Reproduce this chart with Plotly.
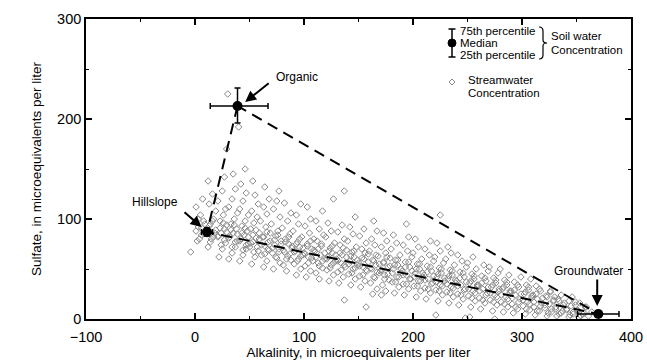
import plotly.graph_objects as go

# ---------------- data ----------------
# streamwater samples (scattered part of the cloud)
STREAM_ALK = [
    -4, 2, 6, 3, 8, 5, 1, 7,
    12, 15, 18, 11, 14, 17, 19, 13, 16, 12,
    22, 25, 28, 21, 24, 27, 29, 23, 26, 28, 21, 25, 27, 29,
    31, 34, 37, 39, 32, 35, 38, 33, 36, 39, 31, 34, 37, 35, 30,
    41, 44, 47, 49, 42, 45, 48, 43, 46, 49, 41, 44, 47, 42, 46, 40,
    52, 55, 58, 50, 53, 56, 59, 51, 54, 57, 52, 58, 55, 53,
    63, 66, 61, 68, 64, 67, 62, 69, 65, 60, 66, 63, 68, 64,
    72, 78, 75, 71, 77, 73, 79, 74, 76, 70, 78, 72, 75, 77,
    84, 81, 88, 85, 82, 89, 86, 83, 87, 80, 85, 88, 82,
    93, 97, 91, 95, 99, 92, 96, 94, 98, 90, 95, 93, 97,
    102, 106, 101, 108, 104, 100, 107, 103, 109, 105, 101, 106, 103,
    114, 111, 117, 113, 119, 115, 110, 116, 112, 118, 114, 111, 117,
    123, 127, 121, 125, 129, 122, 126, 124, 128, 120, 125, 122, 127,
    137, 132, 136, 131, 138, 134, 130, 135, 139, 133, 137, 131, 135, 137,
    143, 147, 141, 145, 149, 142, 146, 144, 148, 140, 145, 142, 147,
    157, 152, 156, 151, 158, 154, 150, 155, 159, 153, 157, 151, 155,
    163, 167, 161, 165, 169, 162, 166, 164, 168, 160, 165, 162, 167, 164,
    171, 175, 172, 178, 174, 170, 177, 173, 179, 175, 171, 176, 173,
    183, 187, 181, 185, 189, 182, 186, 184, 188, 180, 185, 182,
    192, 196, 191, 198, 194, 190, 197, 193, 199, 195, 191, 196, 194,
    203, 207, 201, 205, 209, 202, 206, 204, 208, 200, 205, 202,
    212, 216, 211, 218, 214, 210, 217, 213, 219, 215, 211, 216, 225,
    221, 223, 227, 221, 225, 229, 222, 226, 224, 228, 220, 225, 222,
    233, 237, 231, 235, 239, 232, 236, 234, 238, 230, 235, 232,
    248, 242, 246, 241, 248, 244, 240, 247, 243, 249, 245, 241,
    252, 253, 257, 251, 255, 259, 252, 256, 254, 258, 250, 255,
    262, 266, 261, 268, 264, 260, 267, 263, 269, 265,
    275, 273, 277, 271, 275, 279, 272, 276, 274, 278, 270,
    283, 287, 281, 285, 289, 282, 286, 284, 288, 280,
    292, 296, 291, 298, 294, 290, 297, 293, 299,
    303, 307, 301, 305, 309, 302, 306, 304, 308,
    312, 316, 311, 318, 314, 310, 317, 313,
    323, 327, 321, 325, 329, 322, 326,
    332, 336, 331, 338, 334, 330,
    343, 347, 341, 345, 349,
    352, 356, 351, 358,
    361, 364,
]
STREAM_SO4 = [
    67, 78, 84, 92, 98, 104, 112, 120,
    72, 80, 86, 90, 95, 100, 108, 115, 125, 138,
    62, 70, 76, 82, 86, 90, 94, 98, 104, 110, 118, 128, 142, 170,
    60, 66, 72, 78, 82, 86, 90, 95, 100, 106, 112, 120, 130, 145, 225,
    58, 64, 70, 75, 80, 84, 88, 93, 98, 104, 110, 118, 126, 135, 150, 192,
    55, 62, 68, 72, 77, 81, 86, 90, 96, 102, 108, 115, 124, 138,
    52, 58, 64, 69, 73, 77, 82, 86, 92, 98, 105, 112, 120, 132,
    50, 56, 61, 66, 70, 74, 78, 83, 88, 95, 102, 110, 118, 128,
    48, 54, 59, 63, 67, 71, 75, 80, 85, 91, 98, 106, 116,
    44, 50, 55, 60, 64, 68, 72, 77, 82, 88, 95, 104, 115,
    42, 48, 53, 58, 62, 66, 70, 75, 80, 86, 93, 100, 112,
    40, 46, 51, 56, 60, 64, 68, 73, 78, 84, 90, 98, 108,
    38, 44, 49, 54, 58, 62, 66, 71, 76, 82, 88, 96, 120,
    19, 36, 42, 47, 52, 56, 60, 64, 69, 74, 80, 87, 94, 128,
    34, 40, 45, 50, 54, 58, 62, 67, 72, 78, 85, 92, 102,
    12, 32, 38, 43, 48, 52, 56, 60, 65, 70, 76, 83, 90,
    25, 30, 36, 41, 46, 50, 54, 58, 63, 68, 74, 80, 88, 98,
    24, 28, 34, 39, 44, 48, 52, 56, 61, 66, 72, 78, 86,
    26, 32, 37, 42, 46, 50, 54, 59, 64, 70, 76, 84,
    24, 30, 35, 40, 44, 48, 52, 57, 62, 68, 74, 82, 95,
    22, 28, 33, 38, 42, 46, 50, 55, 60, 66, 72, 80,
    20, 26, 31, 36, 40, 44, 48, 53, 58, 64, 70, 78, 104,
    4, 18, 24, 29, 34, 38, 42, 46, 51, 56, 62, 68, 76,
    16, 22, 27, 32, 36, 40, 44, 49, 54, 60, 66, 72,
    1, 14, 20, 25, 30, 34, 38, 42, 47, 52, 58, 64,
    2, 12, 18, 23, 28, 32, 36, 40, 45, 50, 56, 62,
    10, 16, 21, 26, 30, 34, 38, 43, 48, 54,
    0, 8, 14, 19, 24, 28, 32, 36, 41, 46, 52,
    7, 12, 17, 22, 26, 30, 34, 39, 44, 50,
    6, 10, 15, 20, 24, 28, 32, 37, 42,
    5, 9, 13, 17, 21, 25, 29, 34, 40,
    4, 8, 12, 16, 20, 24, 28, 33,
    3, 7, 11, 15, 19, 23, 28,
    3, 6, 10, 14, 18, 22,
    2, 5, 9, 13, 17,
    2, 5, 8, 12,
    3, 7,
]

# streamwater samples (dense core of the cloud, near the hillslope-groundwater line)
CORE_ALK = [
    4, 8, 1, 6, 9, 3,
    14, 17, 11, 19, 13, 16,
    24, 27, 21, 29, 23, 26,
    34, 37, 31, 39, 33, 36,
    44, 47, 41, 49, 43, 46,
    54, 57, 51, 59, 53, 56,
    64, 67, 61, 69, 63, 66,
    74, 77, 71, 79, 73, 76,
    84, 87, 81, 89, 83, 86,
    94, 97, 91, 99, 93, 96,
    104, 107, 101, 109, 103, 106,
    114, 117, 111, 119, 113, 116,
    124, 127, 121, 129, 123, 126,
    134, 137, 131, 139, 133, 136,
    144, 147, 141, 149, 143, 146,
    154, 157, 151, 159, 153, 156,
    164, 167, 161, 169, 163, 166,
    174, 177, 171, 179, 173, 176,
    184, 187, 181, 189, 183, 186,
    194, 197, 191, 199, 193, 196,
    204, 207, 201, 209, 203, 206,
    214, 217, 211, 219, 213, 216,
    224, 227, 221, 229, 223, 226,
    234, 237, 231, 239, 233, 236,
    244, 247, 241, 249, 243, 246,
    254, 257, 251, 259, 253, 256,
    264, 267, 261, 269, 263, 266,
    274, 277, 271, 279, 273, 276,
    284, 287, 281, 289, 283, 286,
    294, 297, 291, 299, 293, 296,
    304, 307, 301, 309, 303, 306,
    314, 317, 311, 319, 313, 316,
    324, 327, 321, 329, 323, 326,
    334, 337, 331, 339, 333, 336,
    344, 347, 341, 349, 343, 346,
    354, 357, 351, 359, 353,
]
CORE_SO4 = [
    80, 85, 88, 91, 95, 100,
    77, 82, 85, 89, 93, 98,
    74, 79, 83, 87, 91, 96,
    72, 77, 81, 85, 89, 94,
    69, 74, 78, 82, 86, 91,
    67, 72, 76, 80, 84, 89,
    65, 70, 74, 78, 82, 87,
    62, 67, 71, 75, 79, 84,
    60, 65, 69, 73, 77, 82,
    58, 63, 67, 71, 75, 80,
    56, 61, 65, 69, 73, 78,
    53, 58, 62, 66, 70, 75,
    51, 56, 60, 64, 68, 73,
    49, 54, 58, 62, 66, 71,
    46, 51, 55, 59, 63, 68,
    44, 49, 53, 57, 61, 66,
    42, 47, 51, 55, 59, 64,
    40, 45, 49, 53, 57, 62,
    37, 42, 46, 50, 54, 59,
    35, 40, 44, 48, 52, 57,
    33, 38, 42, 46, 50, 55,
    30, 35, 39, 43, 47, 52,
    28, 33, 37, 41, 45, 50,
    26, 31, 35, 39, 43, 48,
    24, 29, 33, 37, 41, 46,
    21, 26, 30, 34, 38, 43,
    19, 24, 28, 32, 36, 41,
    17, 22, 26, 30, 34, 39,
    15, 20, 24, 28, 32, 37,
    12, 17, 21, 25, 29, 34,
    10, 15, 19, 23, 27, 32,
    8, 13, 17, 21, 25, 30,
    6, 10, 14, 18, 22, 27,
    5, 8, 12, 16, 20, 24,
    4, 7, 10, 14, 18, 22,
    3, 6, 9, 12, 16,
]

END_NAMES = ["Organic", "Hillslope", "Groundwater"]
END_ALK = [39, 11, 370]
END_SO4 = [213, 87, 5]
END_ALK_PLUS = [28, 5, 19]     # 75th percentile - median
END_ALK_MINUS = [25, 5, 19]    # median - 25th percentile
END_SO4_PLUS = [18, 4, 3]
END_SO4_MINUS = [17, 4, 3]

X_TICKS = [-100, 0, 100, 200, 300, 400]
Y_TICKS = [0, 100, 200, 300]

FONT = "Liberation Sans, Arial, Helvetica, sans-serif"
STREAM_COLOR = "#8a8a8a"

fig = go.Figure()

fig.add_trace(go.Scatter(
    x=STREAM_ALK + CORE_ALK, y=STREAM_SO4 + CORE_SO4, mode="markers",
    marker=dict(symbol="diamond-open", size=5, color=STREAM_COLOR,
                line=dict(width=1, color=STREAM_COLOR)),
    showlegend=False, hoverinfo="skip"))

# mixing triangle (dashed)
tri_order = [0, 1, 2, 0]
fig.add_trace(go.Scatter(
    x=[END_ALK[i] for i in tri_order], y=[END_SO4[i] for i in tri_order],
    mode="lines", line=dict(color="black", width=2, dash="11px,7px"),
    showlegend=False, hoverinfo="skip"))

# end-members with percentile bars
fig.add_trace(go.Scatter(
    x=END_ALK, y=END_SO4, mode="markers",
    marker=dict(symbol="circle", size=10, color="black"),
    error_x=dict(type="data", array=END_ALK_PLUS, arrayminus=END_ALK_MINUS,
                 color="black", thickness=1.5, width=3),
    error_y=dict(type="data", array=END_SO4_PLUS, arrayminus=END_SO4_MINUS,
                 color="black", thickness=1.5, width=3),
    showlegend=False, hoverinfo="skip"))

ann = []
LABEL_POS = [(94, 242), (-37, 117), (361, 48)]
ARROW_TAIL = [(69, 237), (-11, 108), (369, 41)]
ARROW_HEAD = [(46, 217), (6, 92), (369, 13)]
for name, lp, tail, head in zip(END_NAMES, LABEL_POS, ARROW_TAIL, ARROW_HEAD):
    ann.append(dict(x=lp[0], y=lp[1], xref="x", yref="y", text=name,
                    showarrow=False, font=dict(family=FONT, size=12, color="black")))
    ann.append(dict(x=head[0], y=head[1], ax=tail[0], ay=tail[1],
                    xref="x", yref="y", axref="x", ayref="y", text="",
                    showarrow=True, arrowhead=2, arrowsize=1.1, arrowwidth=2,
                    arrowcolor="black"))


def px(xp):
    return (xp - 86) / 545.0


def py(yp):
    return (319 - yp) / 300.0


for txt, yy in [("75th percentile", 31), ("Median", 43), ("25th percentile", 55)]:
    ann.append(dict(x=px(458), y=py(yy), xref="paper", yref="paper", text=txt,
                    showarrow=False, xanchor="left", yanchor="middle",
                    font=dict(family=FONT, size=11.5, color="black")))
for txt, yy in [("Soil water", 36), ("Concentration", 50)]:
    ann.append(dict(x=px(549), y=py(yy), xref="paper", yref="paper", text=txt,
                    showarrow=False, xanchor="left", yanchor="middle",
                    font=dict(family=FONT, size=11.5, color="black")))
for txt, yy in [("Streamwater", 80), ("Concentration", 93)]:
    ann.append(dict(x=px(466), y=py(yy), xref="paper", yref="paper", text=txt,
                    showarrow=False, xanchor="left", yanchor="middle",
                    font=dict(family=FONT, size=11.5, color="black")))

shapes = []
shapes.append(dict(type="line", xref="paper", yref="paper",
                   x0=px(452), x1=px(452), y0=py(29), y1=py(57),
                   line=dict(color="black", width=1.5)))
for yy in (29, 57):
    shapes.append(dict(type="line", xref="paper", yref="paper",
                       x0=px(448.5), x1=px(455.5), y0=py(yy), y1=py(yy),
                       line=dict(color="black", width=1.5)))
shapes.append(dict(type="circle", xref="paper", yref="paper",
                   x0=px(448), x1=px(456), y0=py(47), y1=py(39),
                   fillcolor="black", line=dict(color="black", width=1)))
bx0, bx1, bx2 = px(539), px(543), px(547)
brace = (f"M {bx0},{py(27)} Q {bx1},{py(27)} {bx1},{py(31)} L {bx1},{py(40)} "
         f"Q {bx1},{py(43)} {bx2},{py(43)} Q {bx1},{py(43)} {bx1},{py(46)} "
         f"L {bx1},{py(55)} Q {bx1},{py(59)} {bx0},{py(59)}")
shapes.append(dict(type="path", xref="paper", yref="paper", path=brace,
                   line=dict(color="black", width=1.2)))
dx, dy = 452, 82
diamond = (f"M {px(dx-3)},{py(dy)} L {px(dx)},{py(dy-3)} "
           f"L {px(dx+3)},{py(dy)} L {px(dx)},{py(dy+3)} Z")
shapes.append(dict(type="path", xref="paper", yref="paper", path=diamond,
                   line=dict(color=STREAM_COLOR, width=1)))

axis_common = dict(
    showline=True, linecolor="black", linewidth=1.6, mirror="ticks",
    ticks="inside", ticklen=6, tickwidth=1.5, tickcolor="black",
    showgrid=False, zeroline=False, automargin=False,
    tickfont=dict(family=FONT, size=14.5, color="black"),
    minor=dict(ticks="inside", ticklen=3, tickwidth=1.2, tickcolor="black", showgrid=False),
)

fig.update_layout(
    width=647, height=362,
    margin=dict(l=86, r=16, t=19, b=43),
    paper_bgcolor="white", plot_bgcolor="white",
    font=dict(family=FONT, color="black"),
    xaxis=dict(range=[-100, 400], tickvals=X_TICKS, minor_dtick=50,
               ticklabelstandoff=4,
               title=dict(text="Alkalinity, in microequivalents per liter",
                          font=dict(family=FONT, size=13.5), standoff=2),
               **axis_common),
    yaxis=dict(range=[0, 300], tickvals=Y_TICKS, minor_dtick=50,
               title=dict(text="Sulfate, in microequivalents per liter",
                          font=dict(family=FONT, size=13.5), standoff=12),
               **axis_common),
    annotations=ann, shapes=shapes, showlegend=False,
)

fig.write_html("out.html")
